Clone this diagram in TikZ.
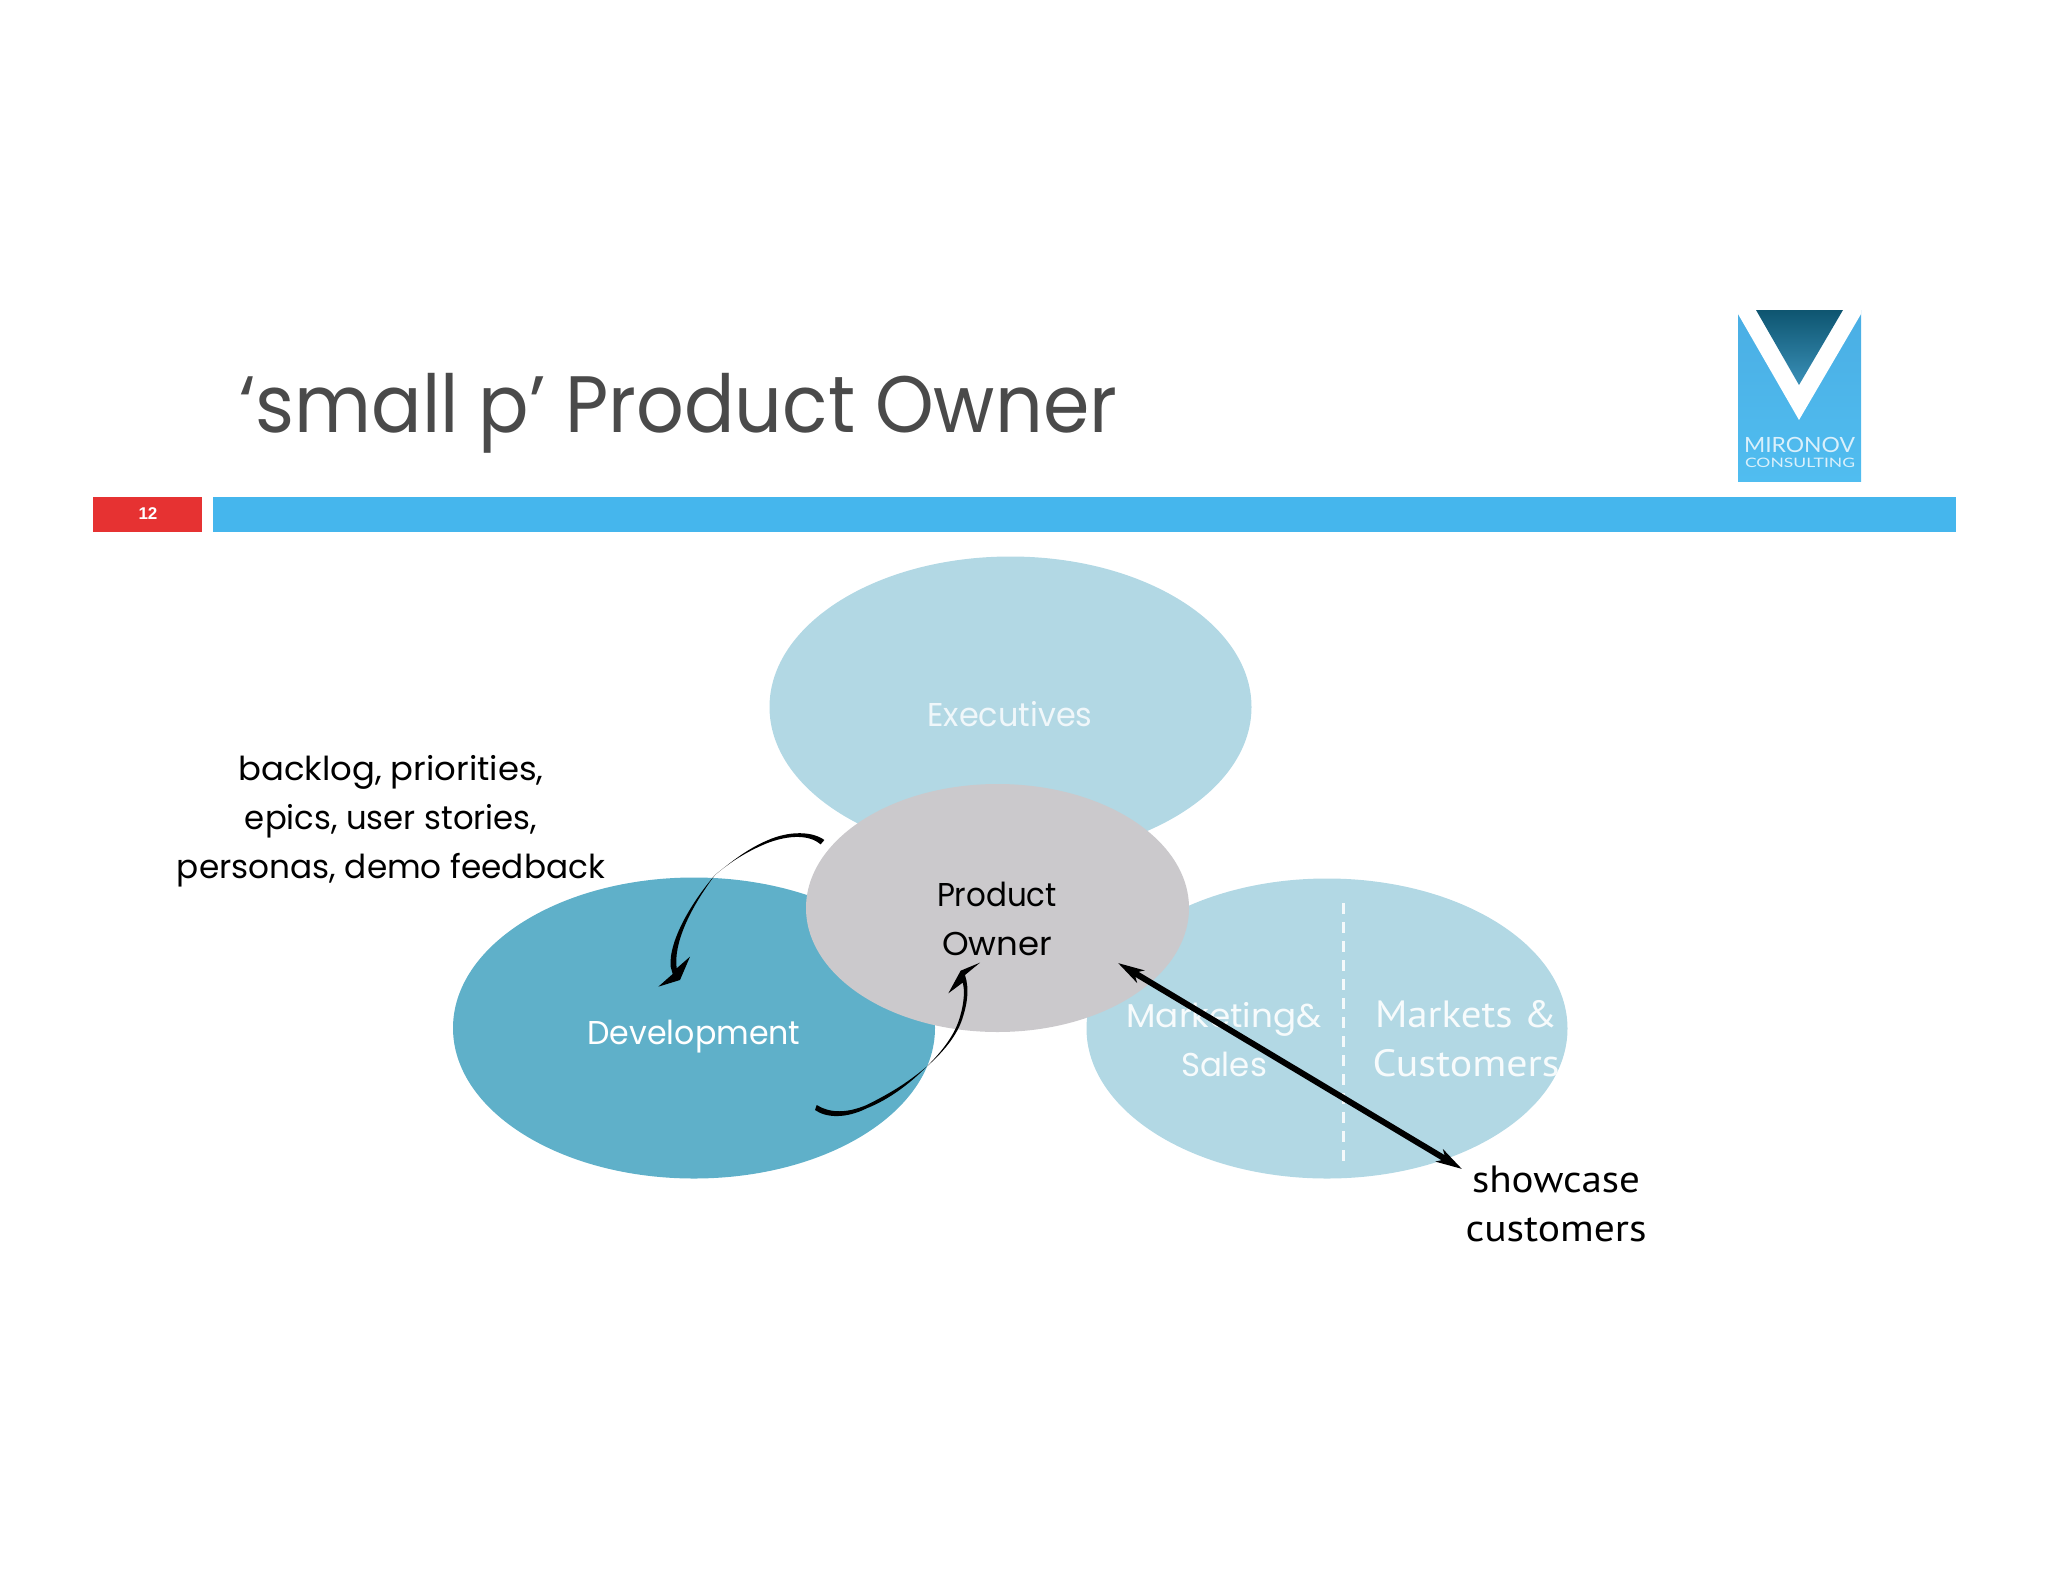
\documentclass[tikz,border=0pt]{standalone}
\usepackage{fontspec}
\usepackage{graphicx}
\usetikzlibrary{shapes.geometric,arrows.meta}
\setmainfont{Poppins}
\newfontfamily\futura{Poppins}
\newfontfamily\humanist{PT Sans}
\newfontfamily\logofont{Lato}
\newfontfamily\numfont{Liberation Sans}
\definecolor{palebl}{HTML}{B2D8E4}
\definecolor{devbl}{HTML}{5FB0C9}
\definecolor{pogray}{HTML}{CBC9CC}
\definecolor{barbl}{HTML}{45B6ED}
\definecolor{barrd}{HTML}{E63232}
\definecolor{titlegr}{HTML}{4A4A4A}
\definecolor{logotop}{HTML}{4AAEE4}
\definecolor{logobot}{HTML}{50BDF0}
\definecolor{tridark}{HTML}{0E5570}
\definecolor{trilight}{HTML}{3A90B8}
\newcommand{\fitw}[2]{\resizebox{#1pt}{\height}{#2}}
\tikzset{
  blob/.style={ellipse,inner sep=0pt,outer sep=0pt,draw=none},
  fut/.style={inner sep=0pt,outer sep=0pt,align=center,font=\futura\fontsize{33}{49}\selectfont},
  hum/.style={inner sep=0pt,outer sep=0pt,align=center,font=\humanist\fontsize{38}{49}\selectfont},
  taper/.style={fill=black,draw=none},
  showarrow/.style={line width=6pt,{Stealth[length=26pt,width=14pt,inset=7pt]}-{Stealth[length=26pt,width=14pt,inset=7pt]}}
}
\begin{document}
\begin{tikzpicture}[x=1pt,y=-1pt]
\useasboundingbox (0,0) rectangle (2048,1582);
% header bars
\node[fill=barrd,inner sep=0pt,minimum width=109pt,minimum height=35pt] (numbox) at (147.5,514.5) {};
\node[text=white,inner sep=0pt,font=\numfont\bfseries\fontsize{17}{18}\selectfont] (numlabel) at (148,514) {12};
\node[fill=barbl,inner sep=0pt,minimum width=1743pt,minimum height=35pt] (bar) at (1084.5,514.5) {};
% title
\node[anchor=base west,inner sep=0pt,text=titlegr,font=\futura\fontsize{80}{90}\selectfont] (title) at (239,432) {\fitw{878}{‘small p’ Product Owner}};
% logo
\shade[top color=logotop,bottom color=logobot] (1738,310) rectangle (1861,481);
\fill[white] (1738,310) -- (1861,310) -- (1861,314) -- (1799,420) -- (1738,314) -- cycle;
\shade[top color=tridark,bottom color=trilight] (1756,310) -- (1843,310) -- (1799,385) -- cycle;
\node[inner sep=0pt,text=white!80!barbl,font=\logofont\fontsize{21}{22}\selectfont] (logoa) at (1799.5,445) {\fitw{111}{MIRONOV}};
\node[inner sep=0pt,text=white!80!barbl,font=\logofont\fontsize{13}{14}\selectfont] (logob) at (1800,462.5) {\fitw{110}{CONSULTING}};
% ellipses
\node[blob,fill=palebl,minimum width=482pt,minimum height=301pt] (exec) at (1010.5,707) {};
\node[blob,fill=devbl,minimum width=482pt,minimum height=301pt] (dev) at (694,1028) {};
\node[blob,fill=palebl,minimum width=481pt,minimum height=300pt] (mkt) at (1327,1028.5) {};
\node[blob,fill=pogray,minimum width=383pt,minimum height=248pt] (po) at (997.5,908) {};
% ellipse labels
\node[fut,text=white!80!palebl] (execlabel) at (1010,714) {\fitw{165}{Executives}};
\node[fut,text=white] (devlabel) at (694,1037) {\fitw{213}{Development}};
\node[fut,text=black] (polabel) at (997,918.5) {\fitw{120}{Product}\\\fitw{110}{Owner}};
\node[fut,text=white!90!palebl] (mktlabel) at (1224,1040) {\fitw{195}{Marketing\&}\\\fitw{86}{Sales}};
\node[hum,text=white!90!palebl] (marketslabel) at (1466,1039) {\fitw{182}{Markets \&}\\\fitw{187}{Customers}};
\node[fut,text=black] (backlog) at (391,821.5) {\fitw{305}{backlog, priorities,}\\\fitw{292}{epics, user stories,}\\\fitw{428}{personas, demo feedback}};
\node[hum,text=black] (showcase) at (1556,1204) {\fitw{168}{showcase}\\\fitw{181}{customers}};
% dashed divider
\coordinate (dashtop) at (1343,903);
\coordinate (dashbot) at (1343,1167);
\draw[white!85!palebl,line width=3pt,dash pattern=on 11pt off 8pt] (dashtop) -- (dashbot);
% double arrow
\coordinate (arrowpo) at (1118,963);
\coordinate (arrowcust) at (1462,1169);
\draw[showarrow] (arrowpo) -- (arrowcust);
% tapered curved arrows
\begin{scope}[shift={(640pt,-800pt)},x=0.33333pt,y=-0.33333pt]
\fill[taper] (553,120) .. controls (520,95) and (450,90) .. (380,122)
  .. controls (320,148) and (270,188) .. (225,225)
  .. controls (160,300) and (85,420) .. (92,500)
  -- (98,522) -- (55,560) -- (120,540) -- (150,470) -- (110,505)
  .. controls (100,430) and (150,325) .. (225,225)
  .. controls (275,183) and (320,155) .. (380,130)
  .. controls (450,103) and (510,105) .. (542,133) -- cycle;
\fill[taper] (530,915) .. controls (570,940) and (620,940) .. (680,915)
  .. controls (750,880) and (800,850) .. (860,800)
  .. controls (905,755) and (945,705) .. (960,650)
  .. controls (972,610) and (975,570) .. (968,548)
  -- (925,580) -- (962,512) -- (1020,488) -- (975,525)
  .. controls (990,570) and (980,620) .. (964,665)
  .. controls (945,715) and (905,760) .. (860,800)
  .. controls (810,850) and (750,897) .. (680,925)
  .. controls (620,955) and (560,955) .. (525,930) -- cycle;
\end{scope}
\end{tikzpicture}
\end{document}
